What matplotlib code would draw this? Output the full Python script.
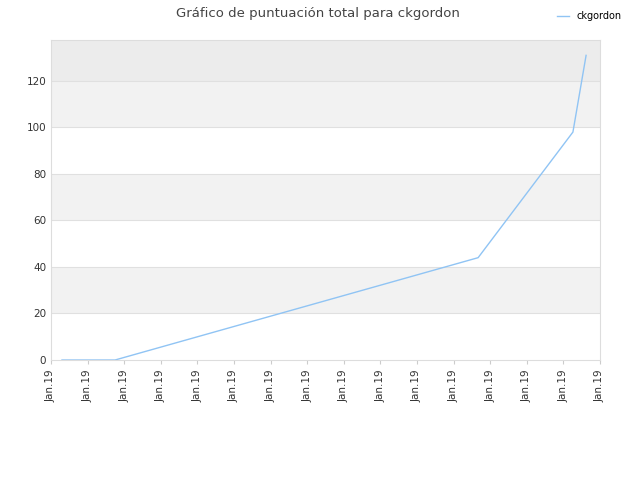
import matplotlib
matplotlib.use("Agg")
import matplotlib.pyplot as plt

x_pos = [0.30, 1.75, 11.67, 14.26, 14.62]
scores = [0, 0, 44, 98, 131]
tick_labels = ["Jan.19"] * 16

fig = plt.figure(figsize=(6.4, 4.8), dpi=100)
ax = fig.add_axes([51/640, 1-360/480, 549/640, 320/480])
ymax = 137.6
bands = [(0, 20, "white"), (20, 40, "#f2f2f2"), (40, 60, "white"), (60, 80, "#f2f2f2"),
         (80, 100, "white"), (100, 120, "#f2f2f2"), (120, ymax, "#ececec")]
for lo, hi, c in bands:
    ax.axhspan(lo, hi, color=c, zorder=0, lw=0)
for y in range(20, 140, 20):
    ax.axhline(y, color="#e0e0e0", lw=0.8, zorder=1)
ax.plot(x_pos, scores, color="#90c4f4", lw=1, label="ckgordon", zorder=2)
ax.set_xlim(0, 15)
ax.set_ylim(0, ymax)
ax.set_yticks(range(0, 140, 20))
ax.set_xticks(range(16))
ax.set_xticklabels(tick_labels, rotation=90, fontsize=7.5, color="#333333")
ax.tick_params(axis="y", labelsize=7.5, colors="#333333", length=0)
ax.tick_params(axis="x", length=3, color="#cccccc")
for s in ax.spines.values():
    s.set_color("#dddddd")
fig.text(0.497, 0.972, "Gráfico de puntuación total para ckgordon", ha="center", va="center",
         fontsize=9.5, color="#444444")
fig.legend(loc="upper right", bbox_to_anchor=(0.985, 0.995), frameon=False, fontsize=7,
           handlelength=1.2)
fig.savefig("out.png")
